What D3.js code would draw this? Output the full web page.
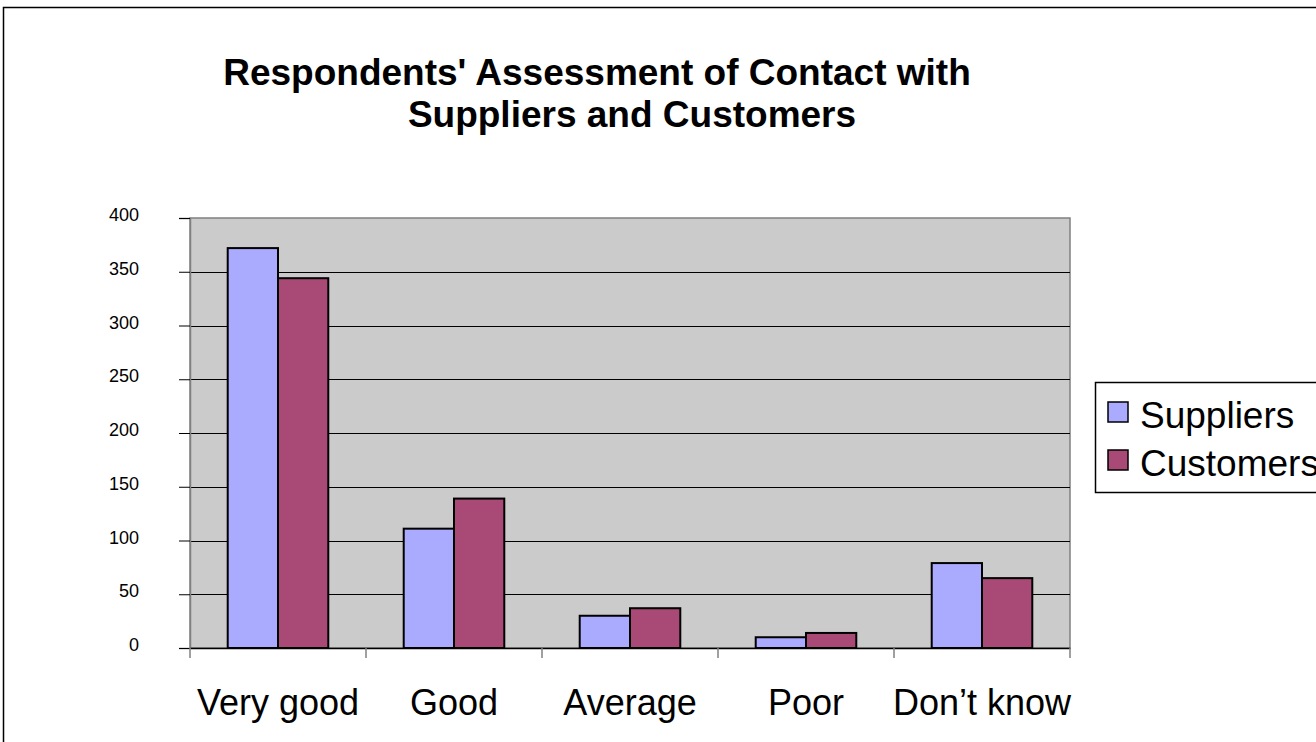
<!DOCTYPE html>
<html lang="en">
<head>
<meta charset="utf-8">
<title>Respondents' Assessment of Contact with Suppliers and Customers</title>
<script src="https://cdn.jsdelivr.net/npm/d3@7"></script>
<style>
  body { margin: 0; background: #fff; }
  text { font-family: "Liberation Sans", Arial, sans-serif; }
</style>
</head>
<body>
<script>
// data
var categories = ["Very good", "Good", "Average", "Poor", "Don\u2019t know"];
var seriesNames = ["Suppliers", "Customers"];
var suppliers = [372, 111, 30, 10, 79];
var customers = [344, 139, 37, 14, 65];
var yTicks = [0, 50, 100, 150, 200, 250, 300, 350, 400];
var colors = ["#aaaaff", "#a94976"];

var w = 1316, h = 742;
var plotLeft = 190, plotRight = 1070, plotTop = 218, plotBottom = 648;

var svg = d3.select("body").append("svg")
  .attr("width", w)
  .attr("height", h);

// outer frame
svg.append("rect")
  .attr("x", 3.5).attr("y", 7.5)
  .attr("width", w).attr("height", h)
  .attr("fill", "#fff")
  .attr("stroke", "#000")
  .attr("stroke-width", 1.5);

// title
var title = svg.append("text")
  .attr("font-weight", "bold")
  .attr("font-size", 37)
  .attr("text-anchor", "middle");
title.append("tspan").attr("x", 597).attr("y", 85).text("Respondents' Assessment of Contact with");
title.append("tspan").attr("x", 632).attr("y", 127).text("Suppliers and Customers");

var x0 = d3.scaleBand().domain(categories).range([plotLeft, plotRight]);
// gap width 150%: 0.75 bar width on each side of the pair
var x1 = d3.scaleBand().domain(seriesNames)
  .range([0, x0.bandwidth()])
  .paddingInner(0).paddingOuter(0.75);
var y = d3.scaleLinear().domain([0, 400]).range([plotBottom, plotTop]);

// plot area
svg.append("rect")
  .attr("x", plotLeft).attr("y", plotTop)
  .attr("width", plotRight - plotLeft).attr("height", plotBottom - plotTop)
  .attr("fill", "#cbcbcb")
  .attr("stroke", "#808080")
  .attr("stroke-width", 1.5);

// gridlines
svg.append("g")
  .selectAll("line")
  .data(yTicks.filter(function(d) { return d > 0 && d < 400; }))
  .enter().append("line")
  .attr("x1", plotLeft).attr("x2", plotRight)
  .attr("y1", function(d) { return Math.round(y(d)) + 0.5; })
  .attr("y2", function(d) { return Math.round(y(d)) + 0.5; })
  .attr("stroke", "#000")
  .attr("stroke-width", 1);

// y axis
var yAxis = d3.axisLeft(y).tickValues(yTicks).tickSize(11).tickPadding(40);
var gy = svg.append("g")
  .attr("transform", "translate(" + plotLeft + ",0)")
  .call(yAxis);
gy.select(".domain").attr("stroke", "#808080").attr("stroke-width", 1.5);
gy.selectAll(".tick line").attr("stroke", "#000");
gy.selectAll(".tick text")
  .attr("font-size", 18)
  .attr("fill", "#000")
  .attr("dy", "0.15em")
  .style("font-family", "'Liberation Sans', Arial, sans-serif");

// bars
var rows = categories.map(function(c, i) {
  return { cat: c, vals: [suppliers[i], customers[i]] };
});
var groups = svg.append("g").selectAll("g")
  .data(rows)
  .enter().append("g")
  .attr("transform", function(d) { return "translate(" + x0(d.cat) + ",0)"; });

groups.selectAll("rect")
  .data(function(d) {
    return d.vals.map(function(v, j) { return { name: seriesNames[j], v: v, j: j }; });
  })
  .enter().append("rect")
  .attr("x", function(d) { return x1(d.name); })
  .attr("y", function(d) { return y(d.v); })
  .attr("width", x1.bandwidth())
  .attr("height", function(d) { return y(0) - y(d.v); })
  .attr("fill", function(d) { return colors[d.j]; })
  .attr("stroke", "#000")
  .attr("stroke-width", 2);

// x axis
var xAxis = d3.axisBottom(x0).tickSize(0).tickPadding(41);
var gx = svg.append("g")
  .attr("transform", "translate(0," + plotBottom + ")")
  .call(xAxis);
gx.select(".domain").attr("stroke", "#000").attr("stroke-width", 1.5);
gx.selectAll(".tick text")
  .attr("font-size", 36)
  .attr("fill", "#000")
  .style("font-family", "'Liberation Sans', Arial, sans-serif");

// category separators below the axis
var edges = categories.map(function(c) { return x0(c); }).concat([plotRight]);
gx.selectAll(".sep")
  .data(edges)
  .enter().append("line")
  .attr("class", "sep")
  .attr("x1", function(d) { return d; }).attr("x2", function(d) { return d; })
  .attr("y1", 0).attr("y2", 10)
  .attr("stroke", "#808080")
  .attr("stroke-width", 1.5);

// legend
var lg = svg.append("g").attr("transform", "translate(1095,382)");
lg.append("rect")
  .attr("x", 0.5).attr("y", 0.5)
  .attr("width", 260).attr("height", 110)
  .attr("fill", "#fff")
  .attr("stroke", "#000")
  .attr("stroke-width", 1.5);
var items = lg.selectAll(".item")
  .data(seriesNames)
  .enter().append("g")
  .attr("class", "item")
  .attr("transform", function(d, i) { return "translate(13," + (20 + i * 48) + ")"; });
items.append("rect")
  .attr("x", 0).attr("y", 0)
  .attr("width", 20).attr("height", 20)
  .attr("fill", function(d, i) { return colors[i]; })
  .attr("stroke", "#000")
  .attr("stroke-width", 1.5);
items.append("text")
  .attr("x", 32).attr("y", 26)
  .attr("font-size", 37)
  .text(function(d) { return d; });
</script>
</body>
</html>
